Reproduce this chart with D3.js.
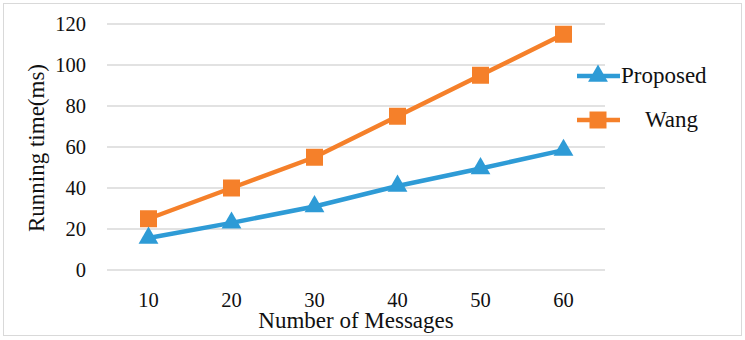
<!DOCTYPE html>
<html>
<head>
<meta charset="utf-8">
<script src="https://cdn.jsdelivr.net/npm/d3@7"></script>
<style>
  body { margin: 0; background: #fff; }
</style>
</head>
<body>
<div id="chart"></div>
<script>
const categories = [10, 20, 30, 40, 50, 60];
const proposed = [15.6, 23, 31, 41, 49.5, 58.5];
const wang = [25, 40, 55, 75, 95, 115];
const yTicks = [0, 20, 40, 60, 80, 100, 120];

const width = 745;
const height = 340;
const serif = '"Liberation Serif"';

const svg = d3.select("#chart").append("svg")
  .attr("width", width)
  .attr("height", height);

// outer frame
svg.append("rect")
  .attr("x", 3.5).attr("y", 3.5)
  .attr("width", 738).attr("height", 332)
  .attr("fill", "#fff")
  .attr("stroke", "#d9d9d9");

const x = d3.scaleBand().domain(categories).range([107, 605]);
const y = d3.scaleLinear().domain([0, 120]).range([270, 24]);

// gridlines
svg.append("g")
  .selectAll("line")
  .data(yTicks)
  .enter()
  .append("line")
  .attr("x1", 107).attr("x2", 605)
  .attr("y1", d => y(d)).attr("y2", d => y(d))
  .attr("stroke", "#d9d9d9")
  .attr("stroke-width", 1.5);

// y axis
const yAxis = d3.axisLeft(y).tickValues(yTicks).tickSize(0).tickPadding(0);
svg.append("g")
  .attr("transform", "translate(86,0)")
  .call(yAxis)
  .call(g => g.select(".domain").remove())
  .call(g => g.selectAll("text")
    .style("font-family", serif)
    .style("font-size", "20.5px")
    .attr("fill", "#111"));

// x axis
const xAxis = d3.axisBottom(x).tickSize(0).tickPadding(0);
svg.append("g")
  .attr("transform", "translate(0,292)")
  .call(xAxis)
  .call(g => g.select(".domain").remove())
  .call(g => g.selectAll("text")
    .style("font-family", serif)
    .style("font-size", "20.5px")
    .attr("fill", "#111"));

// axis titles
svg.append("text")
  .attr("x", 356).attr("y", 328)
  .attr("text-anchor", "middle")
  .style("font-family", serif)
  .style("font-size", "23px")
  .attr("fill", "#111")
  .text("Number of Messages");

svg.append("text")
  .attr("transform", "translate(44,148) rotate(-90)")
  .attr("text-anchor", "middle")
  .style("font-family", serif)
  .style("font-size", "23px")
  .attr("fill", "#111")
  .text("Running time(ms)");

const cx = d => x(d) + x.bandwidth() / 2;
const line = d3.line().x((d, i) => cx(categories[i])).y(d => y(d));

const blue = "#2e9bd6";
const orange = "#f5802a";
const symSize = shape => shape === d3.symbolSquare ? 289 : 170;

function drawSeries(values, color, shape) {
  svg.append("path")
    .datum(values)
    .attr("d", line)
    .attr("fill", "none")
    .attr("stroke", color)
    .attr("stroke-width", 4.5);
  svg.append("g")
    .selectAll("path")
    .data(values)
    .enter()
    .append("path")
    .attr("transform", (d, i) => `translate(${cx(categories[i])},${y(d)})`)
    .attr("d", d3.symbol().type(shape).size(symSize(shape)))
    .attr("fill", color);
}

drawSeries(wang, orange, d3.symbolSquare);
drawSeries(proposed, blue, d3.symbolTriangle);

// legend
const legend = [
  { name: "Proposed", color: blue, shape: d3.symbolTriangle, y: 76, tx: 621 },
  { name: "Wang", color: orange, shape: d3.symbolSquare, y: 120, tx: 645 }
];
const lg = svg.append("g");
legend.forEach(d => {
  lg.append("line")
    .attr("x1", 577).attr("x2", 620)
    .attr("y1", d.y).attr("y2", d.y)
    .attr("stroke", d.color)
    .attr("stroke-width", 4.5);
  lg.append("path")
    .attr("transform", `translate(598,${d.y})`)
    .attr("d", d3.symbol().type(d.shape).size(symSize(d.shape)))
    .attr("fill", d.color);
  lg.append("text")
    .attr("x", d.tx).attr("y", d.y + 7)
    .style("font-family", serif)
    .style("font-size", "23px")
    .attr("fill", "#111")
    .text(d.name);
});
</script>
</body>
</html>
